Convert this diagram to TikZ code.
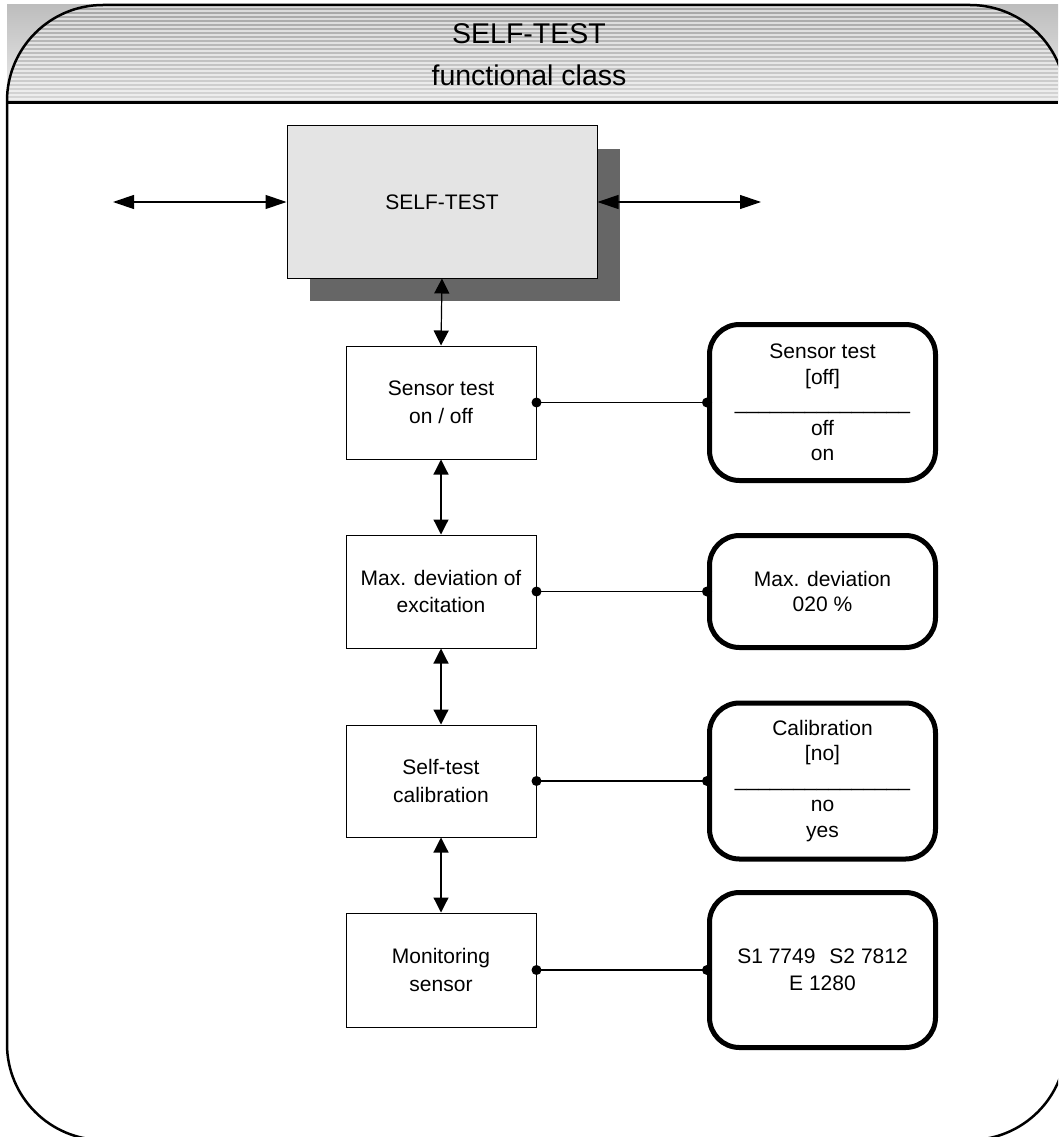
\documentclass[tikz,border=0pt]{standalone}
\usepackage{fontspec}
\setmainfont{Liberation Sans}
\usetikzlibrary{arrows.meta,shadows}
\definecolor{boxgray}{HTML}{E4E4E4}
\definecolor{shadowgray}{HTML}{666666}
\definecolor{bandtop}{HTML}{BDBDBD}
\definecolor{bandbot}{HTML}{EEEEEE}
\definecolor{hdrtop}{HTML}{A4A4A4}
\definecolor{hdrbot}{HTML}{D8D8D8}
\tikzset{
  txt/.style={font=\fontsize{21}{27.5}\selectfont, align=center},
  smallbox/.style={txt, draw, line width=1pt, minimum width=190pt, inner sep=0pt},
  valbox/.style={draw, line width=5pt, rounded corners=30pt, minimum width=226pt,
    inner sep=0pt, align=center, font=\fontsize{21}{25.5}\selectfont},
  hzarrow/.style={line width=1.2pt, arrows={Triangle[length=21pt,width=14pt]-Triangle[length=21pt,width=14pt]}},
  vtarrow/.style={line width=1.2pt, arrows={Triangle[length=15pt,width=15pt]-Triangle[length=15pt,width=15pt]}},
  conn/.style={line width=1.2pt},
  title/.style={font=\fontsize{28.5}{34}\selectfont},
  framestyle/.style={line width=2.5pt}
}
\begin{document}
\begin{tikzpicture}[x=1pt,y=-1pt]
\useasboundingbox (0,0) rectangle (1058,1137);
\clip (0,0) rectangle (1058,1137);
% header band background
\shade[top color=bandtop, bottom color=bandbot] (7,5) rectangle (1058,103);
% striped header inside frame
\begin{scope}
  \clip (7,103) -- (7,101) arc[start angle=180, end angle=270, radius=96]
        -- (970,5) arc[start angle=270, end angle=360, radius=96] -- (1066,103) -- cycle;
  \shade[top color=hdrtop, bottom color=hdrbot] (7,5) rectangle (1058,103);
  \foreach \yy in {7,11,...,103} {
    \draw[white, opacity=0.6, line width=1.7pt] (7,\yy) -- (1058,\yy);
  }
\end{scope}
% frame (right and bottom sides lie outside the picture)
\draw[framestyle] (970,1044) ++(20:96) arc[start angle=20, end angle=90, radius=96]
  -- (103,1140) arc[start angle=90, end angle=180, radius=96]
  -- (7,101) arc[start angle=180, end angle=270, radius=96]
  -- (970,5) arc[start angle=270, end angle=340, radius=96];
\draw[line width=3pt] (7,103) -- (1058,103);
% titles
\node[title] (t1) at (529,34) {SELF-TEST};
\node[title] (t2) at (529,75) {functional class};
% main box
\node[txt, draw, line width=1pt, fill=boxgray, minimum width=310pt, minimum height=152pt, inner sep=0pt,
  general shadow={fill=shadowgray, shadow xshift=23pt, shadow yshift=-23pt}] (st) at (442,202) {SELF-TEST};
% small boxes
\node[smallbox, minimum height=113pt] (b1) at (441,402.5) {Sensor test\\on / off};
\node[smallbox, minimum height=113pt] (b2) at (441,591.5) {Max. deviation of\\excitation};
\node[smallbox, minimum height=112pt] (b3) at (441,781) {Self-test\\calibration};
\node[smallbox, minimum height=114pt] (b4) at (441,970) {Monitoring\\sensor};
% value boxes
\node[valbox, minimum height=156pt] (r1) at (822.5,402.5) {Sensor test\\{}[off]\\\_\_\_\_\_\_\_\_\_\_\_\_\_\_\_\\off\\on};
\node[valbox, minimum height=112pt] (r2) at (822.5,591.5) {Max. deviation\\020 \%};
\node[valbox, minimum height=156pt] (r3) at (822.5,781) {Calibration\\{}[no]\\\_\_\_\_\_\_\_\_\_\_\_\_\_\_\_\\no\\yes};
\node[valbox, minimum height=155pt, font=\fontsize{21}{27}\selectfont] (r4) at (822.5,970) {S1 7749\hspace{14pt}S2 7812\\E 1280};
% arrows
\coordinate (lend) at (113,202);
\coordinate (rend) at (761,202);
\draw[hzarrow] (lend) -- (st.west);
\draw[hzarrow] (st.east) -- (rend);
\draw[vtarrow] (st.south) -- (b1.north);
\draw[vtarrow] (b1.south) -- (b2.north);
\draw[vtarrow] (b2.south) -- (b3.north);
\draw[vtarrow] (b3.south) -- (b4.north);
% connections
\foreach \a/\b in {b1/r1,b2/r2,b3/r3,b4/r4} {
  \draw[conn] (\a.east) -- (\b.west);
  \fill (\a.east) circle (5pt);
  \fill (\b.west) circle (5pt);
}
\end{tikzpicture}
\end{document}
